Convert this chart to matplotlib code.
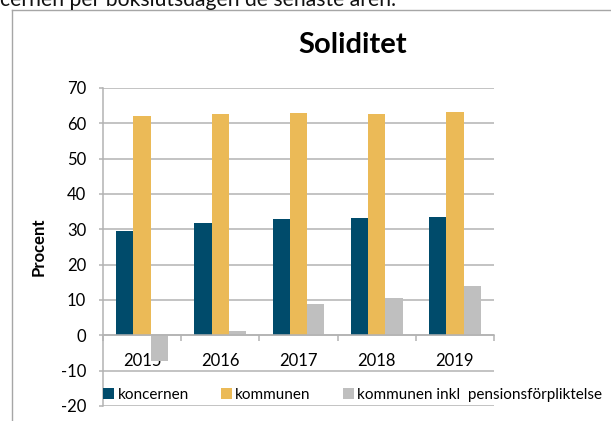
import numpy as np
import matplotlib.pyplot as plt
from matplotlib.lines import Line2D

plt.rcParams['font.family'] = ['Lato', 'DejaVu Sans']
plt.rcParams['axes.unicode_minus'] = False

# data
years = ["2015", "2016", "2017", "2018", "2019"]
koncernen = [29.4, 31.7, 33.0, 33.3, 33.6]
kommunen = [62.1, 62.5, 63.0, 62.5, 63.3]
kommunen_pension = [-7.4, 1.1, 8.9, 10.5, 14.0]
series_names = ["koncernen", "kommunen", "kommunen inkl  pensionsförpliktelse"]
colors = ["#004b6b", "#ebba57", "#bfbfbf"]
yticks = list(range(-20, 71, 10))

W, H = 611, 421
fig = plt.figure(figsize=(W / 100, H / 100), dpi=100)
ax = fig.add_axes([103 / W, 1 - 406 / H, (494 - 103) / W, (406 - 88) / H])

x = np.arange(len(years))
w = 0.22
for i, (vals, name, c) in enumerate(zip([koncernen, kommunen, kommunen_pension], series_names, colors)):
    ax.bar(x + (i - 1) * w, vals, w, color=c, label=name, zorder=2)

grid_c = "#b3b3b3"
ax.set_ylim(-20, 70)
ax.set_xlim(-0.5, len(years) - 0.5)
ax.set_yticks(yticks)
ax.yaxis.grid(True, color=grid_c, lw=1.1)
ax.set_axisbelow(True)
ax.tick_params(axis='y', length=3, width=1.1, color=grid_c, pad=9, labelsize=12)

# category axis sits at y = 0, ticks between categories
ax.spines['bottom'].set_position(('data', 0))
ax.spines['bottom'].set_color(grid_c)
ax.spines['bottom'].set_linewidth(1.1)
ax.spines['left'].set_color(grid_c)
ax.spines['left'].set_linewidth(1.1)
ax.spines['top'].set_visible(False)
ax.spines['right'].set_visible(False)
ax.set_xticks(np.arange(len(years) + 1) - 0.5)
ax.set_xticklabels([])
ax.set_xticks(x, minor=True)
ax.set_xticklabels(years, minor=True, fontsize=12)
ax.tick_params(axis='x', which='major', length=4, width=1.1, color=grid_c)
ax.tick_params(axis='x', which='minor', length=0, pad=13)

ax.set_ylabel("Procent", fontsize=12, fontweight='bold', labelpad=10)

ax.legend(ncol=3, loc='center left', bbox_to_anchor=(0, 0.035), frameon=False,
          fontsize=11, handlelength=0.7, handleheight=0.8, handletextpad=0.25,
          columnspacing=2.1, borderpad=0, borderaxespad=0)

fig.text(353 / W, 1 - 45 / H, "Soliditet", ha='center', va='center',
         fontsize=21, fontweight='bold')

# clipped sentence above the chart and the chart frame
fig.text(0, 1 - 6 / H, "cernen per bokslutsdagen de senaste åren.", ha='left',
         va='baseline', fontsize=15.2, color="#111111")
fig.add_artist(Line2D([11.5 / W, 11.5 / W], [0, 1 - 10 / H], color="#a6a6a6", lw=1))
fig.add_artist(Line2D([11.5 / W, 1], [1 - 10 / H, 1 - 10 / H], color="#a6a6a6", lw=1))

fig.savefig("out.png", dpi=100)
